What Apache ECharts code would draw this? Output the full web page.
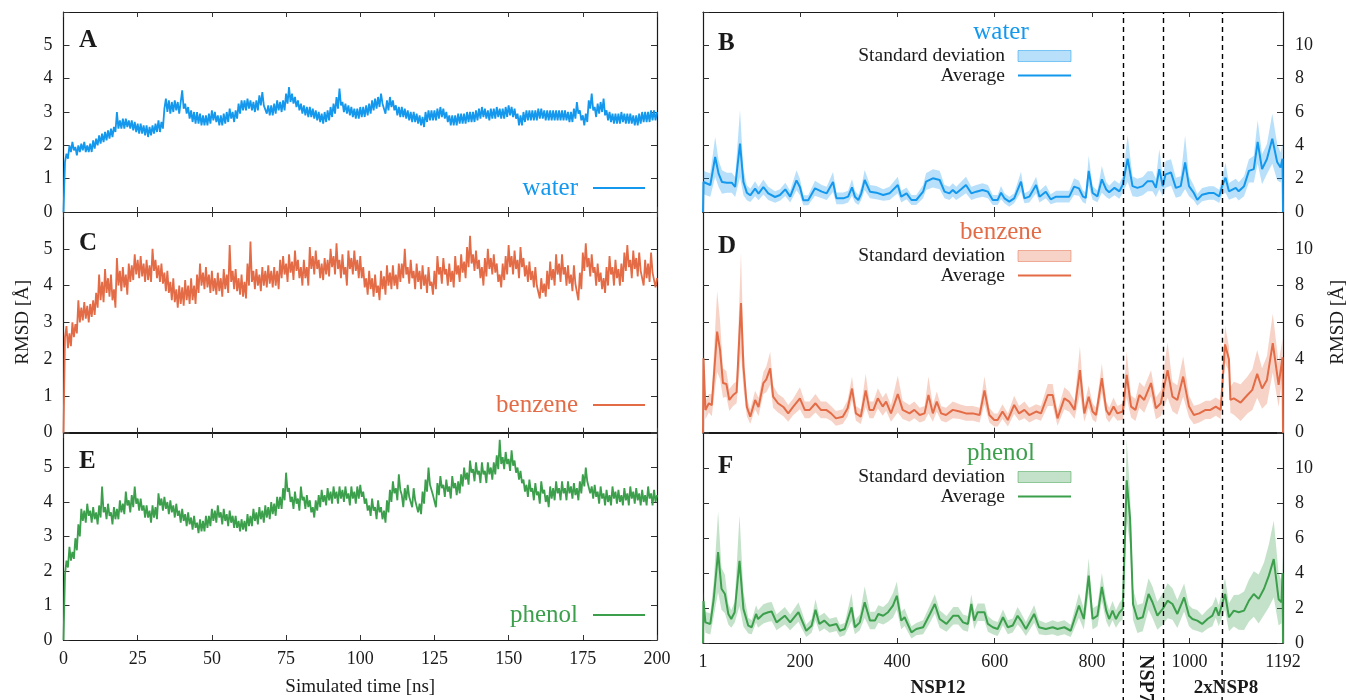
<!DOCTYPE html>
<html><head><meta charset="utf-8">
<script src="https://cdn.jsdelivr.net/npm/echarts@6/dist/echarts.min.js"></script>
<style>html,body{margin:0;padding:0;background:#fff}#c{width:1346px;height:700px}</style>
</head><body><div id="c"></div>
<script>
// ---------------- DATA ----------------
const TIME_STEP_NS = 0.5;
const timeTickInterval = 25;
const residueTickValues = [200, 400, 600, 800, 1000];
const residueLabelValues = [1, 200, 400, 600, 800, 1000, 1192];
const domainBoundaries = [864, 947, 1067];
const panelLetters = ['A', 'C', 'E', 'B', 'D', 'F'];
const systems = ['water', 'benzene', 'phenol'];

// RMSD vs simulated time, sampled every 0.5 ns (0 .. 200 ns)
const waterRmsd = [0,1.5,
1.75,1.6,2.0,1.8,2.1,1.85,1.95,1.7,2.0,1.8,2.05,1.85,2.1,1.8,2.0,1.8,2.05,1.8,2.15,1.9,
2.2,2.0,2.3,2.05,2.35,2.1,2.4,2.15,2.45,2.2,2.5,2.25,2.55,2.4,3.0,2.5,2.75,2.5,2.8,2.5,
2.8,2.55,2.75,2.5,2.75,2.45,2.7,2.4,2.65,2.35,2.65,2.35,2.6,2.3,2.6,2.25,2.55,2.3,2.6,2.35,
2.65,2.4,2.75,2.4,2.7,2.5,3.1,3.4,3.0,3.35,2.95,3.3,3.0,3.35,3.05,3.3,2.95,3.3,3.65,3.1,
3.25,2.95,3.15,2.8,3.05,2.7,3.0,2.65,3.0,2.65,2.95,2.6,2.9,2.6,2.9,2.6,2.95,2.65,3.05,2.75,
3.0,2.7,2.9,2.6,2.9,2.6,2.95,2.65,3.0,2.7,3.1,2.8,3.0,2.7,3.05,2.8,3.25,2.95,3.35,3.05,
3.35,3.05,3.4,3.1,3.35,3.05,3.3,3.0,3.35,3.05,3.5,3.2,3.6,3.2,3.25,2.95,3.2,2.9,3.2,2.9,
3.25,2.95,3.35,3.05,3.3,3.0,3.35,3.05,3.55,3.25,3.75,3.3,3.55,3.25,3.45,3.15,3.35,3.05,3.25,2.95,
3.2,2.9,3.15,2.85,3.15,2.85,3.1,2.8,3.05,2.75,3.0,2.7,2.95,2.65,3.0,2.7,3.05,2.75,3.15,2.85,
3.25,2.95,3.45,3.1,3.7,3.2,3.3,3.0,3.25,2.95,3.2,2.9,3.15,2.85,3.1,2.8,3.1,2.8,3.15,2.85,
3.15,2.85,3.2,2.9,3.25,2.95,3.35,3.05,3.4,3.1,3.45,3.15,3.55,3.25,3.25,2.95,3.35,3.05,3.45,3.15,
3.35,3.05,3.2,2.9,3.15,2.85,3.15,2.85,3.1,2.8,3.05,2.75,3.0,2.7,3.0,2.7,2.95,2.65,2.9,2.6,
2.85,2.55,3.0,2.7,3.05,2.75,3.05,2.75,3.05,2.75,3.1,2.8,3.15,2.85,3.1,2.8,3.0,2.7,2.9,2.6,
2.9,2.6,2.9,2.6,2.95,2.65,2.95,2.65,2.95,2.65,3.0,2.7,3.0,2.7,3.0,2.7,3.05,2.75,3.1,2.8,
3.15,2.85,3.1,2.8,3.05,2.75,3.1,2.8,3.1,2.8,3.15,2.85,3.1,2.8,3.1,2.8,3.15,2.85,3.2,2.9,
3.15,2.85,3.1,2.8,2.95,2.6,2.9,2.6,3.0,2.7,3.05,2.75,3.05,2.75,3.05,2.75,3.05,2.75,3.1,2.8,
3.1,2.8,3.05,2.75,3.05,2.75,3.05,2.75,3.05,2.75,3.05,2.75,3.05,2.75,3.05,2.75,3.05,2.75,3.0,2.7,
3.0,2.7,3.1,2.8,3.3,2.95,3.05,2.75,2.9,2.6,2.95,2.7,3.35,3.1,3.55,3.05,3.15,2.85,3.25,2.95,
3.3,3.0,3.4,2.9,3.05,2.75,3.0,2.7,2.95,2.65,2.95,2.65,2.95,2.65,3.0,2.7,2.95,2.65,2.95,2.65,
2.95,2.65,2.9,2.6,2.9,2.6,2.95,2.65,3.0,2.7,3.0,2.7,3.0,2.7,3.05,2.75,3.05,2.75,3.0];

const benzeneRmsd = [0,2.6,
2.9,2.3,2.7,2.35,3.0,2.6,2.95,2.7,3.6,3.0,3.4,3.05,3.55,3.1,3.45,3.0,3.5,3.15,3.6,3.2,
3.8,3.4,4.3,3.6,4.1,3.55,4.45,3.8,4.2,3.7,4.3,3.6,3.9,3.4,4.75,4.0,4.4,3.85,4.5,3.95,
4.3,3.75,4.6,4.1,4.55,4.15,4.85,4.3,4.7,4.2,4.8,4.25,4.6,4.1,4.7,4.15,4.55,4.1,5.0,4.4,
4.7,4.2,4.55,4.1,4.6,4.05,4.35,3.85,4.4,3.8,4.1,3.6,4.2,3.55,3.9,3.4,4.0,3.5,3.95,3.45,
4.15,3.6,4.0,3.5,4.2,3.6,4.0,3.5,4.3,3.8,4.6,4.0,4.35,3.9,4.5,3.95,4.3,3.8,4.4,3.85,
4.2,3.75,4.35,3.85,4.2,3.7,4.45,3.9,4.3,3.8,5.1,4.1,4.4,3.9,4.45,3.85,4.2,3.75,4.3,3.7,
4.1,3.65,4.6,4.0,5.2,4.1,4.4,3.9,4.45,4.0,4.3,3.85,4.5,4.0,4.4,3.95,4.55,4.05,4.4,3.95,
4.5,4.0,4.4,3.9,4.7,4.2,4.8,4.3,4.6,4.1,4.85,4.35,4.65,4.15,4.95,4.4,4.7,4.2,4.5,4.0,
4.7,4.2,4.5,4.0,5.05,4.45,4.8,4.3,4.95,4.45,4.7,4.2,4.6,4.15,4.75,4.3,4.7,4.25,5.0,4.5,
4.8,4.3,5.15,4.45,4.7,4.2,4.85,4.3,4.5,4.0,4.95,4.45,4.75,4.3,4.95,4.4,4.7,4.2,4.8,4.2,
4.5,3.95,4.2,3.75,4.4,3.9,4.2,3.7,4.3,3.8,4.0,3.6,4.4,3.9,4.25,3.75,4.55,4.0,4.35,3.9,
4.55,4.0,4.3,3.9,4.6,4.1,4.6,4.2,5.0,4.3,4.5,4.05,4.7,4.2,4.4,3.9,4.6,4.1,4.4,3.9,
4.55,4.0,4.3,3.8,4.5,4.0,4.1,3.75,4.4,3.9,4.8,4.3,4.5,4.05,4.75,4.3,4.45,4.0,4.6,4.1,
4.4,3.95,4.8,4.3,4.55,4.1,4.85,4.35,4.65,4.2,5.05,4.5,5.35,4.6,4.85,4.4,4.95,4.45,4.7,4.2,
4.5,4.0,4.75,4.25,5.0,4.45,4.75,4.3,4.85,4.35,4.6,4.1,4.3,3.95,4.6,4.15,4.8,4.3,5.1,4.5,
4.8,4.3,4.95,4.45,4.7,4.2,5.05,4.5,4.75,4.25,4.55,4.1,4.65,4.15,4.4,3.95,4.5,4.0,4.0,3.65,
4.2,3.8,4.05,3.7,4.4,3.9,4.65,4.15,4.45,4.0,4.85,4.3,4.6,4.1,4.85,4.3,4.5,4.0,4.55,4.05,
4.3,3.85,4.55,4.05,4.0,3.6,4.35,3.9,4.9,4.4,5.15,4.5,4.75,4.25,4.85,4.35,4.5,4.0,4.6,4.1,
4.35,3.9,4.2,3.8,4.5,4.0,4.8,4.3,4.5,4.0,4.7,4.2,4.45,4.0,4.6,4.1,4.9,4.4,5.1,4.5,
4.7,4.2,4.95,4.45,4.75,4.25,4.9,4.4,4.45,4.0,4.7,4.2,4.6,4.1,4.9,4.35,4.4,3.95,4.2];

const phenolRmsd = [0,1.9,
2.3,2.1,2.7,2.3,2.55,2.35,2.95,2.6,3.35,3.0,3.8,3.45,3.75,3.4,3.95,3.6,3.75,3.4,3.85,3.5,
3.7,3.35,3.9,3.55,4.45,3.7,3.85,3.5,3.95,3.6,3.7,3.35,3.85,3.5,3.8,3.5,4.05,3.7,3.95,3.65,
4.3,3.9,4.05,3.7,4.2,3.85,4.45,3.95,4.1,3.75,4.1,3.75,3.9,3.55,3.9,3.55,3.75,3.4,3.9,3.55,
3.85,3.5,4.25,3.9,4.1,3.75,4.15,3.8,4.0,3.65,4.05,3.7,3.9,3.55,3.95,3.6,3.75,3.4,3.8,3.45,
3.65,3.3,3.7,3.35,3.55,3.2,3.6,3.25,3.4,3.1,3.5,3.15,3.45,3.15,3.6,3.25,3.6,3.3,3.8,3.45,
3.75,3.4,3.9,3.55,3.7,3.35,3.8,3.45,3.65,3.3,3.75,3.4,3.6,3.25,3.6,3.25,3.45,3.15,3.5,3.2,
3.45,3.15,3.65,3.3,3.6,3.3,3.8,3.45,3.7,3.35,3.85,3.5,3.75,3.4,3.9,3.55,3.85,3.5,4.0,3.65,
3.95,3.6,4.15,3.8,4.15,3.8,4.4,4.05,4.85,4.3,4.4,4.0,4.15,3.8,4.3,3.95,4.1,3.75,4.45,4.05,
4.15,3.8,4.2,3.85,4.05,3.7,3.85,3.55,4.05,3.75,4.2,3.85,4.35,4.0,4.2,3.9,4.4,4.05,4.3,3.95,
4.45,4.1,4.3,3.95,4.45,4.1,4.35,4.0,4.45,4.1,4.25,3.9,4.45,4.1,4.3,3.95,4.45,4.1,4.5,4.15,
4.3,3.95,4.1,3.75,3.9,3.6,4.1,3.75,3.85,3.5,4.05,3.7,3.85,3.5,3.75,3.4,4.05,3.7,4.35,4.0,
4.6,4.25,4.4,4.05,4.8,4.35,4.2,3.85,4.4,4.05,4.5,4.15,4.2,3.85,4.4,4.05,4.05,3.7,3.95,3.65,
4.3,3.95,4.65,4.3,5.0,4.5,4.55,4.2,4.2,3.85,4.55,4.2,4.75,4.4,4.5,4.15,4.65,4.3,4.45,4.1,
4.75,4.4,4.55,4.2,4.6,4.25,4.8,4.45,5.0,4.65,4.85,4.5,5.2,4.85,4.95,4.6,5.15,4.8,4.9,4.55,
5.15,4.8,4.9,4.55,5.15,4.8,5.0,4.65,5.15,4.8,5.35,4.95,5.8,5.1,5.3,4.95,5.45,5.1,5.25,4.9,
5.5,5.05,5.2,4.85,5.0,4.65,4.9,4.55,4.65,4.3,4.5,4.15,4.65,4.3,4.4,4.05,4.55,4.2,4.3,3.95,
4.6,4.25,4.35,4.0,4.2,3.85,4.45,4.1,4.4,4.05,4.6,4.25,4.4,4.05,4.6,4.25,4.4,4.05,4.6,4.25,
4.45,4.1,4.55,4.2,4.4,4.05,4.6,4.25,4.8,4.45,5.0,4.6,4.6,4.25,4.45,4.1,4.5,4.15,4.3,3.95,
4.45,4.1,4.25,3.9,4.35,4.0,4.2,3.9,4.45,4.1,4.3,3.95,4.35,4.0,4.2,3.9,4.4,4.05,4.25,3.9,
4.45,4.1,4.3,3.95,4.4,4.05,4.25,3.9,4.35,4.0,4.2,3.9,4.45,4.1,4.25,3.9,4.35,4.0,4.2];

// per-residue RMSD (average and standard deviation over replicas)
const waterResidue = [1,2,6,16,26,33,40,50,60,67,77,84,91,98,108,115,125,135,149,159,170,180,193,200,207,217,231,245,255,268,275,289,299,307,313,320,326,333,344,357,371,384,401,408,419,429,439,453,459,473,487,497,507,514,521,531,541,552,562,575,586,596,606,613,620,630,640,654,661,671,685,692,705,715,726,739,753,763,773,781,787,793,801,811,820,829,835,846,856,863,873,883,893,904,914,924,931,938,945,951,962,972,982,991,999,1009,1016,1026,1040,1050,1061,1067,1074,1081,1095,1101,1112,1122,1132,1140,1149,1159,1170,1180,1187,1191,1192];
const waterAvg = [0,1.8,1.72,1.62,3.3,2.3,1.8,1.76,1.76,1.5,4.1,1.8,1.16,1.0,1.4,1.1,1.5,1.12,0.9,1.02,1.36,0.92,1.9,1.5,0.7,0.7,1.42,1.22,1.12,1.8,0.82,0.82,0.92,1.48,0.92,0.72,1.12,1.92,1.22,1.16,1.02,1.12,1.62,0.92,1.12,0.72,0.72,1.22,1.82,2.02,1.92,1.22,1.12,1.32,1.12,1.36,1.62,1.12,1.22,1.32,1.22,0.72,0.72,1.16,0.82,0.62,0.82,1.82,0.82,0.92,1.62,0.92,1.22,0.76,0.92,0.92,0.92,1.52,1.42,0.94,0.84,2.47,1.14,0.94,1.96,1.35,1.18,1.45,1.24,1.65,3.2,1.55,1.45,1.55,1.85,1.85,1.45,2.57,1.55,2.26,2.37,1.45,1.55,2.98,1.55,1.14,0.73,1.04,1.14,1.14,0.94,1.55,2.06,1.24,1.45,1.24,1.55,2.47,2.57,4.2,2.57,3.18,4.4,3.0,2.67,3.2,0];
const waterSd = [0,.7,.7,.7,1.2,.8,.7,.6,.6,.6,2.0,.8,.45,.4,.45,.4,.45,.4,.35,.35,.4,.35,.6,.5,.3,.3,.45,.4,.4,.6,.35,.35,.35,.5,.35,.3,.4,.6,.4,.4,.35,.4,.5,.35,.35,.3,.3,.4,.5,.55,.55,.4,.4,.4,.4,.45,.5,.4,.4,.4,.4,.3,.3,.4,.3,.3,.3,.6,.3,.35,.5,.35,.4,.3,.35,.35,.35,.5,.45,.35,.35,.9,.4,.35,.8,.45,.4,.45,.45,.5,1.4,.6,.55,.55,.6,.6,.55,1.2,.6,.8,.8,.6,.6,1.6,.6,.45,.35,.4,.4,.4,.4,.5,.9,.5,.55,.55,.6,.7,.8,1.3,.9,.9,1.5,1.1,.9,.9,0];

const benzeneResidue = [1,2,6,13,19,30,36,42,49,55,63,70,79,84,91,98,108,115,125,131,139,145,155,166,176,186,200,210,220,232,243,254,264,274,288,298,307,315,325,335,343,351,360,370,377,387,401,411,425,435,446,456,464,473,481,490,500,514,528,541,555,569,579,589,599,606,616,627,640,650,661,671,685,695,709,719,729,743,753,764,775,784,793,801,808,820,829,835,844,852,863,871,880,889,897,907,921,931,941,955,965,975,987,999,1009,1020,1033,1043,1054,1064,1073,1081,1084,1091,1105,1119,1129,1139,1149,1159,1171,1183,1191,1192];
const benzeneAvg = [0,4.05,1.23,1.6,1.5,5.5,4.5,2.7,2.65,1.78,2.05,2.2,7.05,3.6,1.4,0.87,1.78,1.4,2.7,2.9,3.5,1.96,1.6,1.4,1.05,1.4,1.87,1.24,1.24,1.6,1.24,1.24,1.05,0.78,0.87,1.33,2.4,1.05,0.87,2.3,1.24,1.24,1.87,1.42,1.69,1.05,2.1,1.24,1.05,1.24,0.96,1.05,2.05,1.05,1.69,1.05,0.96,1.24,1.15,1.05,1.05,0.96,2.3,0.96,0.69,0.69,1.15,0.69,1.51,1.05,1.24,0.96,1.15,1.05,2.05,2.05,0.78,1.87,1.69,1.24,3.4,1.05,1.96,1.15,0.96,2.96,1.24,0.96,1.42,1.05,1.15,3.15,1.42,1.24,2.05,1.78,2.7,1.33,1.6,3.4,1.96,1.78,3.05,1.42,0.96,1.05,1.24,1.24,1.42,1.24,4.8,4.0,1.78,1.87,1.64,2.05,2.33,3.2,2.4,2.87,4.87,2.6,4.1,0];
const benzeneSd = [0,.5,.5,.5,.6,2.2,1.6,.8,.7,.6,.6,.6,2.75,1.2,.5,.4,.5,.5,.6,.7,.9,.6,.5,.5,.45,.45,.6,.45,.45,.5,.45,.45,.4,.4,.4,.45,.65,.4,.4,.9,.45,.45,.55,.5,.5,.45,1.0,.5,.45,.45,.4,.4,1.0,.45,.55,.4,.4,.45,.4,.4,.4,.4,.75,.4,.35,.35,.4,.35,.5,.4,.45,.4,.4,.4,.6,.6,.4,.6,.55,.5,1.3,.45,.6,.45,.4,.8,.45,.4,.5,.4,.45,1.25,.6,.6,.7,.7,.7,.6,.7,1.5,.8,.8,1.1,.6,.5,.5,.5,.5,.5,.5,1.0,.7,.7,.9,1.0,1.0,1.1,1.3,1.1,1.3,1.6,1.2,1.0,0];

const phenolResidue = [1,2,6,16,23,32,39,46,53,59,66,76,84,94,101,110,114,125,135,142,152,169,180,197,203,213,224,232,240,250,261,275,282,292,306,313,323,333,344,354,361,371,381,391,399,408,415,429,439,453,467,477,487,501,515,525,535,545,552,558,565,579,586,596,606,617,627,637,647,654,664,681,691,705,719,729,743,756,773,783,793,801,811,820,829,835,842,849,856,863,871,878,884,893,904,916,924,934,945,955,965,975,989,999,1006,1016,1026,1037,1047,1054,1060,1073,1081,1091,1101,1112,1122,1132,1142,1153,1163,1173,1183,1189,1191,1192];
const phenolAvg = [0,2.4,1.18,1.09,2.5,5.2,3.1,2.8,1.66,1.37,1.76,4.7,1.95,0.99,0.9,1.66,1.37,1.66,1.76,1.8,1.18,1.56,1.18,1.76,1.37,0.7,0.99,1.9,1.09,1.28,0.99,1.09,0.7,0.8,2.04,0.9,1.18,2.33,1.28,1.28,1.66,1.56,1.76,2.14,2.7,1.28,1.47,0.61,0.8,0.9,1.66,2.23,1.37,1.09,1.56,1.56,1.18,1.09,2.23,1.28,1.76,1.76,1.09,0.9,0.8,1.47,0.9,1.0,1.56,1.28,0.8,1.66,0.9,0.8,0.9,0.8,0.9,0.7,2.14,1.37,3.85,1.37,1.56,3.2,1.85,1.37,1.85,1.37,1.74,1.95,9.3,7.1,2.23,1.37,1.47,2.8,2.33,1.56,1.95,2.42,2.23,1.66,2.6,1.56,1.37,1.28,1.09,1.37,1.56,2.04,1.56,2.8,1.47,1.85,1.76,1.85,2.42,2.8,2.52,3.1,3.85,4.8,2.5,2.33,4.0,0];
const phenolSd = [0,.6,.6,.6,1.0,2.3,1.2,1.1,.6,.5,.6,2.6,1.0,.45,.4,.5,.5,.55,.55,.55,.45,.5,.45,.55,.5,.35,.4,.6,.45,.45,.4,.4,.35,.35,.8,.4,.45,.9,.5,.5,.5,.5,.55,.7,.8,.5,.5,.35,.35,.4,.5,.55,.5,.45,.5,.5,.45,.45,.55,.5,.5,.5,.45,.4,.4,.45,.4,.4,.5,.45,.4,.5,.4,.35,.4,.4,.4,.35,.7,.6,1.0,.6,.6,.8,.6,.5,.55,.5,.55,.6,2.3,1.5,.9,.8,.8,.9,.9,.8,.9,1.0,.9,.8,.8,.6,.6,.6,.5,.55,.6,.6,.6,.9,.8,.9,1.0,1.1,1.2,1.3,1.4,1.5,1.8,2.2,1.5,1.2,1.0,0];

// ---------------- STYLE / LAYOUT ----------------
const FONT = '"Liberation Serif","DejaVu Serif",serif';
const COLORS = { water: '#1398ee', benzene: '#e36c47', phenol: '#3c9f4c' };
const FILLS = { water: 'rgba(19,152,238,0.3)', benzene: 'rgba(227,108,71,0.3)', phenol: 'rgba(60,159,76,0.3)' };
const LEFT = { x: 63.5, w: 593.5 };
const RIGHT = { x: 703, w: 580 };
const ROWS_L = [[12, 200], [212, 220.7], [433, 207]];
const ROWS_R = [[12, 200], [212, 220.7], [433, 210]];
const AX_LINE = { color: '#1a1a1a', width: 1.2 };
const TICK = { color: '#333', width: 1 };
const LABEL = { fontFamily: FONT, fontSize: 18, color: '#1a1a1a' };

const timeSeries = { water: waterRmsd, benzene: benzeneRmsd, phenol: phenolRmsd };
const resSeries = {
  water: [waterResidue, waterAvg, waterSd],
  benzene: [benzeneResidue, benzeneAvg, benzeneSd],
  phenol: [phenolResidue, phenolAvg, phenolSd]
};

const grid = [];
ROWS_L.forEach(([t, h]) => grid.push({ left: LEFT.x, top: t, width: LEFT.w, height: h, outerBoundsMode: 'none', containLabel: false }));
ROWS_R.forEach(([t, h]) => grid.push({ left: RIGHT.x, top: t, width: RIGHT.w, height: h, outerBoundsMode: 'none', containLabel: false }));

const xAxis = [], yAxis = [];
for (let gi = 0; gi < 6; gi++) {
  const isTime = gi < 3;
  const isBottom = gi === 2 || gi === 5;
  const xb = isTime ? { min: 0, max: 200, interval: timeTickInterval } : { min: 1, max: 1192 };
  const tick = isTime ? { inside: true, length: 5, lineStyle: TICK }
                      : { inside: true, length: 5, lineStyle: TICK, customValues: residueTickValues };
  const xl = Object.assign({ show: isBottom, margin: 10, formatter: v => String(v) }, LABEL);
  if (!isTime) xl.customValues = residueLabelValues;
  const xMain = Object.assign({ type: 'value', gridIndex: gi, position: 'bottom',
    axisLine: { show: true, onZero: false, lineStyle: AX_LINE }, axisTick: tick,
    axisLabel: xl, splitLine: { show: false } }, xb);
  if (gi === 2) {
    Object.assign(xMain, { name: 'Simulated time [ns]', nameLocation: 'middle', nameGap: 38,
      nameTextStyle: { fontFamily: FONT, fontSize: 19, color: '#1a1a1a' } });
  }
  const xMir = Object.assign({ type: 'value', gridIndex: gi, position: 'top',
    axisLine: { show: true, onZero: false, lineStyle: AX_LINE }, axisTick: tick,
    axisLabel: { show: false }, splitLine: { show: false } }, xb);
  xAxis.push(xMain, xMir);

  const yb = isTime ? { min: 0, max: 6, interval: 1 } : { min: 0, max: 12, interval: 2 };
  const yMain = Object.assign({ type: 'value', gridIndex: gi, position: isTime ? 'left' : 'right',
    axisLine: { show: true, onZero: false, lineStyle: AX_LINE },
    axisTick: { inside: true, length: 6, lineStyle: TICK },
    axisLabel: Object.assign({ margin: isTime ? 11 : 12, formatter: v => (v >= yb.max ? '' : String(v)) }, LABEL),
    splitLine: { show: false } }, yb);
  if (gi === 1 || gi === 4) {
    Object.assign(yMain, { name: 'RMSD [Å]', nameLocation: 'middle', nameRotate: 90,
      nameGap: isTime ? 31 : 46, nameTextStyle: { fontFamily: FONT, fontSize: 19, color: '#1a1a1a' } });
  }
  const yMir = Object.assign({ type: 'value', gridIndex: gi, position: isTime ? 'right' : 'left',
    axisLine: { show: true, onZero: false, lineStyle: AX_LINE },
    axisTick: { inside: true, length: 6, lineStyle: TICK },
    axisLabel: { show: false }, splitLine: { show: false } }, yb);
  yAxis.push(yMain, yMir);
}

const series = [];
systems.forEach((name, i) => {
  const vals = timeSeries[name];
  series.push({
    type: 'line', name: name + '-time', xAxisIndex: 2 * i, yAxisIndex: 2 * i,
    data: vals.map((v, k) => [k * TIME_STEP_NS, v]),
    showSymbol: false, symbol: 'none', clip: true,
    lineStyle: { color: COLORS[name], width: 1.8 }, z: 3
  });
});
systems.forEach((name, i) => {
  const gi = 3 + i;
  const [res, avg, sd] = resSeries[name];
  const lower = avg.map((a, k) => Math.max(a - sd[k], 0));
  const upper = avg.map((a, k) => a + sd[k]);
  series.push({
    type: 'custom', name: name + '-sd', xAxisIndex: 2 * gi, yAxisIndex: 2 * gi, z: 1, silent: true,
    data: res.map((r, k) => [r, lower[k], upper[k]]),
    encode: { x: 0, y: [1, 2] },
    renderItem: (params, api) => {
      if (params.dataIndex !== 0) return null;
      const top = res.map((r, k) => api.coord([r, upper[k]]));
      const bot = res.map((r, k) => api.coord([r, lower[k]])).reverse();
      return { type: 'polygon', shape: { points: top.concat(bot) }, style: { fill: FILLS[name] } };
    }
  });
  series.push({
    type: 'line', name: name + '-avg', xAxisIndex: 2 * gi, yAxisIndex: 2 * gi,
    data: res.map((r, k) => [r, avg[k]]), showSymbol: false, symbol: 'none',
    lineStyle: { color: COLORS[name], width: 2 }, z: 3,
    markLine: { silent: true, symbol: ['none', 'none'], label: { show: false },
      lineStyle: { color: '#000', type: [5, 4], width: 1.4 },
      data: domainBoundaries.map(v => ({ xAxis: v })), animation: false }
  });
});

// graphic texts & legend keys
const graphic = [];
function txt(text, x, y, opts) {
  graphic.push({ type: 'text', x: x, y: y, rotation: (opts && opts.rot) || 0, silent: true,
    style: { text: text, fontFamily: FONT, fontSize: (opts && opts.size) || 19,
      fontWeight: (opts && opts.bold) ? 'bold' : 'normal', fill: (opts && opts.color) || '#1a1a1a',
      textAlign: (opts && opts.align) || 'left', textVerticalAlign: 'middle' }, z: 10 });
}
const letterPos = [[79, 41], [79, 244], [79, 462], [718, 44], [718, 247], [718, 467]];
panelLetters.forEach((L, i) => txt(L, letterPos[i][0], letterPos[i][1], { size: 25, bold: true }));
const leftLegendY = [188, 405, 615];
systems.forEach((name, i) => {
  txt(name, 578, leftLegendY[i], { size: 25, color: COLORS[name], align: 'right' });
  graphic.push({ type: 'line', shape: { x1: 593, y1: leftLegendY[i], x2: 645, y2: leftLegendY[i] },
    style: { stroke: COLORS[name], lineWidth: 2 }, silent: true, z: 10 });
});
const rightTops = [12, 212, 433];
systems.forEach((name, i) => {
  const t = rightTops[i];
  txt(name, 1001, t + 20, { size: 25, color: COLORS[name], align: 'center' });
  txt('Standard deviation', 1005, t + 44, { size: 19.5, align: 'right' });
  txt('Average', 1005, t + 64, { size: 19.5, align: 'right' });
  graphic.push({ type: 'rect', shape: { x: 1018, y: t + 38.5, width: 53, height: 11 },
    style: { fill: FILLS[name], stroke: COLORS[name], lineWidth: 1, strokeOpacity: 0.5 }, silent: true, z: 10 });
  graphic.push({ type: 'line', shape: { x1: 1018, y1: t + 63.5, x2: 1071, y2: t + 63.5 },
    style: { stroke: COLORS[name], lineWidth: 2 }, silent: true, z: 10 });
});
txt('NSP12', 938, 688, { size: 19, bold: true, align: 'center' });
txt('2xNSP8', 1226, 688, { size: 19, bold: true, align: 'center' });
txt('NSP7', 1145, 655, { size: 20, bold: true, align: 'left', rot: -Math.PI / 2 });

const chart = echarts.init(document.getElementById('c'), null, { renderer: 'canvas' });
const option = { animation: false, backgroundColor: '#fff', grid, xAxis, yAxis, series, graphic };
chart.setOption(option);

// extend the domain boundary lines below the bottom-right panel
const fBottom = ROWS_R[2][0] + ROWS_R[2][1];
domainBoundaries.forEach(v => {
  const px = chart.convertToPixel({ xAxisIndex: 10 }, v);
  graphic.push({ type: 'line', shape: { x1: px, y1: fBottom, x2: px, y2: 700 },
    style: { stroke: '#000', lineWidth: 1.4, lineDash: [5, 4] }, silent: true, z: 9 });
});
chart.setOption({ graphic: graphic });
</script></body></html>
